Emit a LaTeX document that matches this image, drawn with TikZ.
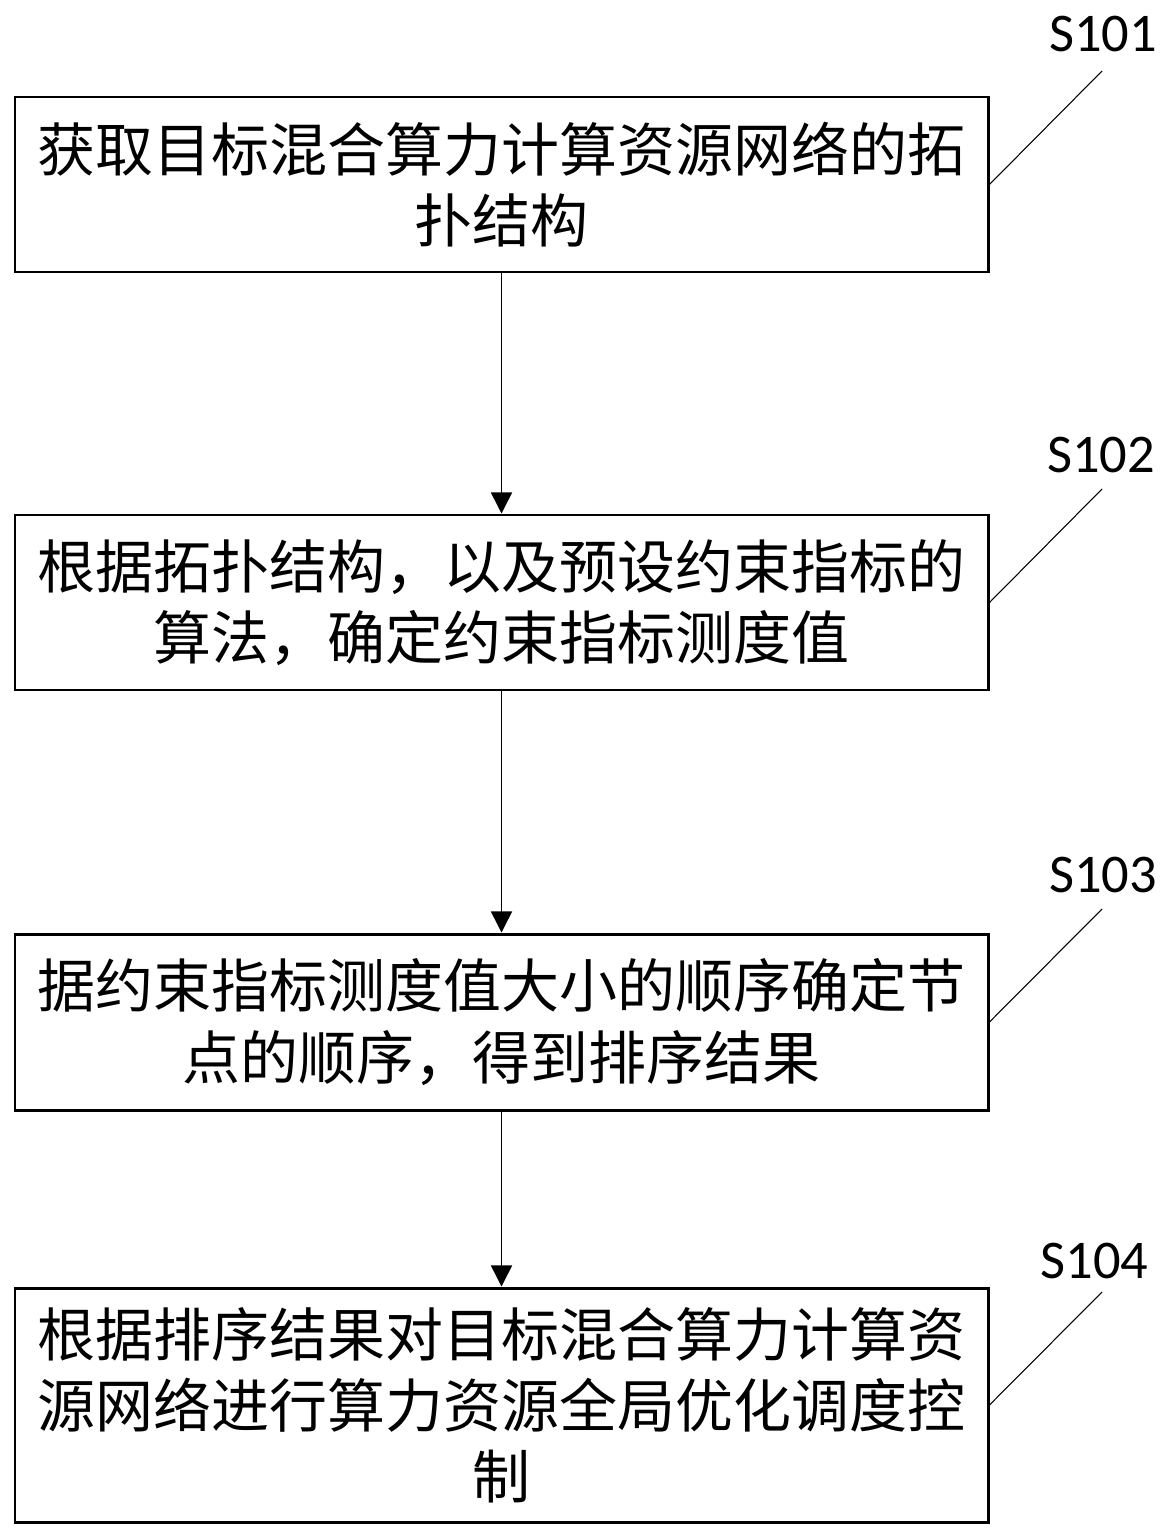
\documentclass[tikz,border=0pt]{standalone}
\usepackage{fontspec}
\usepackage{tikz}
\usetikzlibrary{arrows.meta}
\newfontfamily\cjkfont{Noto Sans CJK SC}
\newfontfamily\labfont{Carlito}
\tikzset{stepbox/.style={rectangle,draw,line width=1.7pt,minimum width=19.46cm,inner sep=0pt,text width=18.8cm,align=center,font=\cjkfont\fontsize{33pt}{40.5pt}\selectfont}}
\tikzset{steplab/.style={inner sep=0pt,font=\labfont\fontsize{31pt}{31pt}\selectfont}}

\begin{document}
\begin{tikzpicture}[>={Triangle[length=12pt,width=12pt]}]
    \useasboundingbox (0,0) rectangle (23.46,-30.78);

    \node[stepbox,minimum height=3.5cm] (s101) at (10.03,-3.69) {获取目标混合算力计算资源网络的拓\\扑结构};
    \node[stepbox,minimum height=3.5cm] (s102) at (10.03,-12.05) {根据拓扑结构，以及预设约束指标的\\算法，确定约束指标测度值};
    \node[stepbox,minimum height=3.52cm] (s103) at (10.03,-20.44) {据约束指标测度值大小的顺序确定节\\点的顺序，得到排序结果};
    \node[stepbox,minimum height=4.68cm] (s104) at (10.03,-28.10) {根据排序结果对目标混合算力计算资\\源网络进行算力资源全局优化调度控\\制};

    \node[steplab] (l101) at (22.06,-0.69) {S101};
    \node[steplab] (l102) at (22.02,-9.11) {S102};
    \node[steplab] (l103) at (22.06,-17.51) {S103};
    \node[steplab] (l104) at (21.89,-25.22) {S104};
    \coordinate (c101) at (22.04,-1.42);
    \coordinate (c102) at (22.04,-9.78);
    \coordinate (c103) at (22.04,-18.18);
    \coordinate (c104) at (22.04,-25.84);

    \draw [->,line width=0.8pt] (s101) -- (s102);
    \draw [->,line width=0.8pt] (s102) -- (s103);
    \draw [->,line width=0.8pt] (s103) -- (s104);

    \draw [line width=0.6pt] (s101.east) -- (c101);
    \draw [line width=0.6pt] (s102.east) -- (c102);
    \draw [line width=0.6pt] (s103.east) -- (c103);
    \draw [line width=0.6pt] (s104.east) -- (c104);
\end{tikzpicture}
\end{document}
